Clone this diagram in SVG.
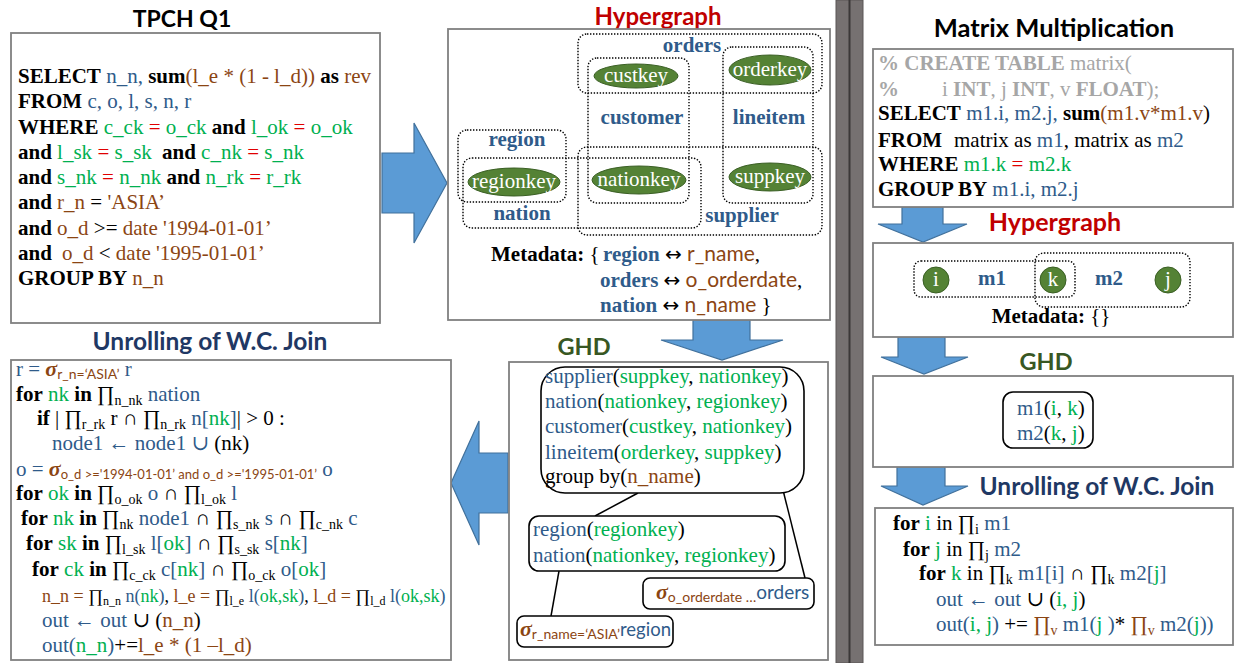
<svg xmlns="http://www.w3.org/2000/svg" width="1238" height="663" viewBox="0 0 1238 663">
<defs><style>
text { font-family: "Liberation Serif", "DejaVu Serif", serif; font-size: 21px; fill: #000; }
.h { font-family: Lato, "Liberation Sans", sans-serif; font-weight: bold; font-size: 23px; }
.b { font-weight: bold; }
.bl { fill: #2F5B8A; }
.gr { fill: #00B050; }
.br { fill: #8B4513; }
.rd { fill: #E00000; }
.gy { fill: #A6A6A6; }
.w { fill: #fff; }
.sf { font-family: Lato, "Liberation Sans", sans-serif; }
.ar { font-family: "DejaVu Sans", sans-serif; font-size: 20px; }
.s { font-size: 14px; }
.sg { font-style: italic; font-weight: bold; font-size: 22px; fill: #8B4513; }
.box { fill: #fff; stroke: #808080; stroke-width: 1.8; }
.dot { fill: none; stroke: #000; stroke-width: 1.4; stroke-dasharray: 1.4 1.6; }
.ell { fill: #548235; stroke: #3A5F24; stroke-width: 1; }
.rr { fill: #fff; stroke: #000; stroke-width: 1.6; }
.arr { fill: #5B9BD5; stroke: #41719C; stroke-width: 1.2; }
.ln { stroke: #000; stroke-width: 1.5; fill: none; }
</style></defs>
<rect x="0" y="0" width="1238" height="663" fill="#fff"/>

<g id="separator">
<rect x="836" y="0" width="27" height="663" fill="#767171" stroke="#5a5656" stroke-width="1"/>
<line x1="849.5" y1="0" x2="849.5" y2="663" stroke="#3b3838" stroke-width="2"/>
</g>

<g id="connectors">
<path class="arr" d="M382,153 H414 V123 L447,183 L414,243 V213 H382 Z"/>
<path class="arr" d="M693,320 H750 V340 H783 L722,360 L661,340 H693 Z"/>
<path class="arr" d="M508,453 H479 V421 L451,483 L479,545 V513 H508 Z"/>
<path class="arr" d="M902,207 H943 V224 H967 L923,242 L878,224 H902 Z"/>
<path class="arr" d="M898,337 H945 V357 H968 L924,374 L881,357 H898 Z"/>
<path class="arr" d="M897,467 H945 V486 H968 L923,505 L881,486 H897 Z"/>
</g>

<g id="tpch">
<text class="h" x="182" y="27" text-anchor="middle">TPCH Q1</text>
<rect class="box" x="11" y="33" width="369" height="290"/>
<text x="18" y="83"><tspan class="b">SELECT</tspan> <tspan class="bl">n_n,</tspan> <tspan class="b">sum</tspan><tspan class="br">(l_e * (1 - l_d))</tspan> <tspan class="b">as</tspan> <tspan class="br">rev</tspan></text>
<text x="18" y="108"><tspan class="b">FROM</tspan> <tspan class="bl">c, o, l, s, n, r</tspan></text>
<text x="18" y="134"><tspan class="b">WHERE</tspan> <tspan class="gr">c_ck</tspan> <tspan class="rd">=</tspan> <tspan class="gr">o_ck</tspan> <tspan class="b">and</tspan> <tspan class="gr">l_ok</tspan> <tspan class="rd">=</tspan> <tspan class="gr">o_ok</tspan></text>
<text x="18" y="159"><tspan class="b">and</tspan> <tspan class="gr">l_sk</tspan> <tspan class="rd">=</tspan> <tspan class="gr">s_sk</tspan>  <tspan class="b" x="162">and</tspan> <tspan class="gr">c_nk</tspan> <tspan class="rd">=</tspan> <tspan class="gr">s_nk</tspan></text>
<text x="18" y="184"><tspan class="b">and</tspan> <tspan class="gr">s_nk</tspan> <tspan class="rd">=</tspan> <tspan class="gr">n_nk</tspan> <tspan class="b">and</tspan> <tspan class="gr">n_rk</tspan> <tspan class="rd">=</tspan> <tspan class="gr">r_rk</tspan></text>
<text x="18" y="209"><tspan class="b">and</tspan> <tspan class="br">r_n</tspan> = <tspan class="br">'ASIA’</tspan></text>
<text x="18" y="235"><tspan class="b">and</tspan> <tspan class="br">o_d</tspan> &gt;= <tspan class="br">date '1994-01-01’</tspan></text>
<text x="18" y="260"><tspan class="b">and</tspan> <tspan class="br" x="62">o_d</tspan> &lt; <tspan class="br">date '1995-01-01’</tspan></text>
<text x="18" y="285"><tspan class="b">GROUP BY</tspan> <tspan class="br">n_n</tspan></text>
</g>

<g id="hypergraph">
<text class="h" x="658" y="25" text-anchor="middle" style="fill:#C00000;font-size:24px">Hypergraph</text>
<rect class="box" x="448" y="29" width="382" height="291"/>
<rect class="dot" x="578" y="34" width="244" height="59" rx="9"/>
<rect class="dot" x="588" y="58" width="101" height="145" rx="9"/>
<rect class="dot" x="723" y="47" width="90" height="156" rx="9"/>
<rect class="dot" x="458" y="130" width="108" height="72" rx="9"/>
<rect class="dot" x="463" y="158" width="238" height="70" rx="9"/>
<rect class="dot" x="578" y="147" width="244" height="88" rx="9"/>
<ellipse class="ell" cx="636" cy="76" rx="42" ry="12"/>
<ellipse class="ell" cx="770" cy="70" rx="41" ry="15"/>
<ellipse class="ell" cx="514" cy="182" rx="46" ry="14"/>
<ellipse class="ell" cx="639" cy="180" rx="47" ry="14"/>
<ellipse class="ell" cx="770" cy="177" rx="41" ry="14"/>
<text class="w" x="636" y="82" text-anchor="middle">custkey</text>
<text class="w" x="770" y="76" text-anchor="middle">orderkey</text>
<text class="w" x="514" y="188" text-anchor="middle">regionkey</text>
<text class="w" x="639" y="186" text-anchor="middle">nationkey</text>
<text class="w" x="770" y="183" text-anchor="middle">suppkey</text>
<text class="b bl" x="692" y="52" text-anchor="middle">orders</text>
<text class="b bl" x="642" y="124" text-anchor="middle">customer</text>
<text class="b bl" x="769" y="124" text-anchor="middle">lineitem</text>
<text class="b bl" x="517" y="146" text-anchor="middle">region</text>
<text class="b bl" x="522" y="220" text-anchor="middle">nation</text>
<text class="b bl" x="742" y="222" text-anchor="middle">supplier</text>
<text x="491" y="261"><tspan class="b">Metadata:</tspan> { <tspan class="b bl" x="603">region</tspan> <tspan class="ar">↔</tspan> <tspan class="br sf">r_name</tspan>,</text>
<text x="600" y="287"><tspan class="b bl">orders</tspan> <tspan class="ar">↔</tspan> <tspan class="br sf">o_orderdate</tspan>,</text>
<text x="600" y="312"><tspan class="b bl">nation</tspan> <tspan class="ar">↔</tspan> <tspan class="br sf">n_name</tspan> }</text>
</g>

<g id="ghd">
<text class="h" x="584" y="355" text-anchor="middle" style="fill:#385723;font-size:23.5px">GHD</text>
<rect class="box" x="509" y="362" width="319" height="298"/>
<g id="ghd-tree">
<line class="ln" x1="638" y1="493" x2="595" y2="516"/>
<line class="ln" x1="783" y1="490" x2="805" y2="578"/>
<line class="ln" x1="559" y1="571" x2="551" y2="616"/>
</g>
<g id="ghd-root">
<rect class="rr" x="541" y="367" width="263" height="126" rx="24"/>
<text x="545" y="383"><tspan class="bl">supplier</tspan>(<tspan class="gr">suppkey</tspan>, <tspan class="gr">nationkey</tspan>)</text>
<text x="545" y="408"><tspan class="bl">nation</tspan>(<tspan class="gr">nationkey</tspan>, <tspan class="gr">regionkey</tspan>)</text>
<text x="545" y="433"><tspan class="bl">customer</tspan>(<tspan class="gr">custkey</tspan>, <tspan class="gr">nationkey</tspan>)</text>
<text x="545" y="459"><tspan class="bl">lineitem</tspan>(<tspan class="gr">orderkey</tspan>, <tspan class="gr">suppkey</tspan>)</text>
<text x="545" y="483">group by(<tspan class="br">n_name</tspan>)</text>
</g>
<g id="ghd-child">
<rect class="rr" x="529" y="516" width="256" height="55" rx="10"/>
<text x="533" y="536"><tspan class="bl">region</tspan>(<tspan class="gr">regionkey</tspan>)</text>
<text x="533" y="562"><tspan class="bl">nation</tspan>(<tspan class="gr">nationkey</tspan>, <tspan class="gr">regionkey</tspan>)</text>
</g>
<g id="ghd-orders">
<rect class="rr" x="643" y="578" width="171" height="31" rx="7"/>
<text x="656" y="599"><tspan class="sg">σ</tspan><tspan class="br sf s" dy="3">o_orderdate …</tspan><tspan class="bl sf" dy="-3" style="font-size:19px">orders</tspan></text>
</g>
<g id="ghd-region">
<rect class="rr" x="517" y="616" width="156" height="31" rx="7"/>
<text x="520" y="636"><tspan class="sg">σ</tspan><tspan class="br sf s" dy="3">r_name=‘ASIA’</tspan><tspan class="bl sf" dy="-3" style="font-size:18.5px">region</tspan></text>
</g>
</g>

<g id="unrolling">
<text class="h" x="210" y="350" text-anchor="middle" style="fill:#1F3864;font-size:24.5px">Unrolling of W.C. Join</text>
<rect class="box" x="11" y="360" width="440" height="300"/>
<text x="16" y="376"><tspan class="bl">r = </tspan><tspan class="sg">σ</tspan><tspan class="br sf s" dy="3">r_n=‘ASIA’</tspan><tspan class="bl" dy="-3"> r</tspan></text>
<text x="16" y="401"><tspan class="b">for</tspan> <tspan class="gr">nk</tspan> <tspan class="b">in</tspan> ∏<tspan class="s" dy="4">n_nk</tspan><tspan class="bl" dy="-4"> nation</tspan></text>
<text x="37" y="425"><tspan class="b">if</tspan> | ∏<tspan class="s" dy="4">r_rk</tspan><tspan dy="-4"> r ∩ ∏</tspan><tspan class="s" dy="4">n_rk</tspan><tspan class="bl" dy="-4"> n[</tspan><tspan class="gr">nk</tspan><tspan class="bl">]</tspan>| &gt; 0 :</text>
<text x="52" y="450"><tspan class="bl">node1 ← node1 ∪</tspan> (nk)</text>
<text x="16" y="476"><tspan class="bl">o = </tspan><tspan class="sg">σ</tspan><tspan class="br sf" dy="3" style="font-size:13px">o_d &gt;='1994-01-01’ and o_d &gt;='1995-01-01’</tspan><tspan class="bl" dy="-3"> o</tspan></text>
<text x="16" y="500"><tspan class="b">for</tspan> <tspan class="gr">ok</tspan> <tspan class="b">in</tspan> ∏<tspan class="s" dy="4">o_ok</tspan><tspan class="bl" dy="-4"> o</tspan> ∩ ∏<tspan class="s" dy="4">l_ok</tspan><tspan class="bl" dy="-4"> l</tspan></text>
<text x="21" y="525"><tspan class="b">for</tspan> <tspan class="gr">nk</tspan> <tspan class="b">in</tspan> ∏<tspan class="s" dy="4">nk</tspan><tspan class="bl" dy="-4"> node1</tspan> ∩ ∏<tspan class="s" dy="4">s_nk</tspan><tspan class="bl" dy="-4"> s</tspan> ∩ ∏<tspan class="s" dy="4">c_nk</tspan><tspan class="bl" dy="-4"> c</tspan></text>
<text x="26" y="550"><tspan class="b">for</tspan> <tspan class="gr">sk</tspan> <tspan class="b">in</tspan> ∏<tspan class="s" dy="4">l_sk</tspan><tspan class="bl" dy="-4"> l[</tspan><tspan class="gr">ok</tspan><tspan class="bl">]</tspan> ∩ ∏<tspan class="s" dy="4">s_sk</tspan><tspan class="bl" dy="-4"> s[</tspan><tspan class="gr">nk</tspan><tspan class="bl">]</tspan></text>
<text x="32" y="576"><tspan class="b">for</tspan> <tspan class="gr">ck</tspan> <tspan class="b">in</tspan> ∏<tspan class="s" dy="4">c_ck</tspan><tspan class="bl" dy="-4"> c[</tspan><tspan class="gr">nk</tspan><tspan class="bl">]</tspan> ∩ ∏<tspan class="s" dy="4">o_ck</tspan><tspan class="bl" dy="-4"> o[</tspan><tspan class="gr">ok</tspan><tspan class="bl">]</tspan></text>
<text x="42" y="602" style="font-size:18px"><tspan class="br">n_n = </tspan>∏<tspan class="s" dy="3" style="font-size:12px">n_n</tspan><tspan class="bl" dy="-3"> n(</tspan><tspan class="gr">nk</tspan><tspan class="bl">)</tspan>, <tspan class="br">l_e = </tspan>∏<tspan class="s" dy="3" style="font-size:12px">l_e</tspan><tspan class="bl" dy="-3"> l(</tspan><tspan class="gr">ok,sk</tspan><tspan class="bl">)</tspan>, <tspan class="br">l_d = </tspan>∏<tspan class="s" dy="3" style="font-size:12px">l_d</tspan><tspan class="bl" dy="-3"> l(</tspan><tspan class="gr">ok,sk</tspan><tspan class="bl">)</tspan></text>
<text x="42" y="627"><tspan class="bl">out ← out</tspan> ∪ (<tspan class="br">n_n</tspan>)</text>
<text x="42" y="652"><tspan class="bl">out(</tspan><tspan class="gr">n_n</tspan><tspan class="bl">)</tspan>+=<tspan class="br">l_e * (1 –l_d)</tspan></text>
</g>

<g id="matrix">
<text class="h" x="1054" y="37" text-anchor="middle" style="font-size:25.5px">Matrix Multiplication</text>
<rect class="box" x="873" y="49" width="360" height="158"/>
<text class="gy" x="878" y="70"><tspan class="b">% CREATE TABLE</tspan> matrix(</text>
<text class="gy" x="878" y="96"><tspan class="b">%</tspan><tspan x="942">i </tspan><tspan class="b">INT</tspan>, j <tspan class="b">INT</tspan>, v <tspan class="b">FLOAT</tspan>);</text>
<text x="878" y="120"><tspan class="b">SELECT</tspan> <tspan class="bl">m1.i, m2.j,</tspan> <tspan class="b">sum</tspan><tspan class="br">(m1.v*m1.v</tspan>)</text>
<text x="878" y="147"><tspan class="b">FROM</tspan><tspan x="954">matrix as </tspan><tspan class="bl">m1</tspan>, matrix as <tspan class="bl">m2</tspan></text>
<text x="878" y="171"><tspan class="b">WHERE</tspan> <tspan class="gr">m1.k</tspan> <tspan class="rd">=</tspan> <tspan class="gr">m2.k</tspan></text>
<text x="878" y="196"><tspan class="b">GROUP BY</tspan> <tspan class="bl">m1.i, m2.j</tspan></text>
</g>

<g id="matrix-hypergraph">
<text class="h" x="1055" y="231" text-anchor="middle" style="fill:#C00000;font-size:25px">Hypergraph</text>
<rect class="box" x="873" y="243" width="360" height="94"/>
<rect class="dot" x="914" y="261" width="161" height="36" rx="7"/>
<rect class="dot" x="1035" y="253" width="155" height="54" rx="9"/>
<circle class="ell" cx="936" cy="280" r="13"/>
<circle class="ell" cx="1053" cy="280" r="13"/>
<circle class="ell" cx="1168" cy="280" r="13"/>
<text class="w" x="936" y="286" text-anchor="middle">i</text>
<text class="w" x="1053" y="286" text-anchor="middle">k</text>
<text class="w" x="1168" y="286" text-anchor="middle">j</text>
<text class="b bl" x="992" y="285" text-anchor="middle">m1</text>
<text class="b bl" x="1109" y="285" text-anchor="middle">m2</text>
<text x="1051" y="323" text-anchor="middle"><tspan class="b">Metadata:</tspan> {}</text>
</g>

<g id="matrix-ghd">
<text class="h" x="1046" y="370" text-anchor="middle" style="fill:#385723;font-size:23.5px">GHD</text>
<rect class="box" x="873" y="376" width="360" height="91"/>
<rect class="rr" x="1003" y="392" width="90" height="56" rx="10"/>
<text x="1017" y="415"><tspan class="bl">m1</tspan>(<tspan class="gr">i</tspan>, <tspan class="gr">k</tspan>)</text>
<text x="1017" y="440"><tspan class="bl">m2</tspan>(<tspan class="gr">k</tspan>, <tspan class="gr">j</tspan>)</text>
</g>

<g id="matrix-unrolling">
<text class="h" x="1097" y="495" text-anchor="middle" style="fill:#1F3864;font-size:24.5px">Unrolling of W.C. Join</text>
<rect class="box" x="875" y="508" width="358" height="137"/>
<text x="893" y="530"><tspan class="b">for</tspan> <tspan class="gr">i</tspan> in ∏<tspan class="s" dy="4">i</tspan><tspan class="bl" dy="-4"> m1</tspan></text>
<text x="903" y="556"><tspan class="b">for</tspan> <tspan class="gr">j</tspan> in ∏<tspan class="s" dy="4">j</tspan><tspan class="bl" dy="-4"> m2</tspan></text>
<text x="919" y="580"><tspan class="b">for</tspan> <tspan class="gr">k</tspan> in ∏<tspan class="s" dy="4">k</tspan><tspan class="bl" dy="-4"> m1[i]</tspan> ∩ ∏<tspan class="s" dy="4">k</tspan><tspan class="bl" dy="-4"> m2[</tspan><tspan class="gr">j</tspan><tspan class="bl">]</tspan></text>
<text x="936" y="606"><tspan class="bl">out ← out</tspan> ∪  (<tspan class="gr">i, j</tspan>)</text>
<text x="936" y="631"><tspan class="bl">out(</tspan><tspan class="gr">i, j</tspan><tspan class="bl">)</tspan> += <tspan class="br">∏</tspan><tspan class="br s" dy="4">v</tspan><tspan class="bl" dy="-4"> m1(</tspan><tspan class="gr">j</tspan><tspan class="bl"> )</tspan>* <tspan class="br">∏</tspan><tspan class="br s" dy="4">v</tspan><tspan class="bl" dy="-4"> m2(</tspan><tspan class="gr">j</tspan><tspan class="bl">))</tspan></text>
</g>
</svg>
